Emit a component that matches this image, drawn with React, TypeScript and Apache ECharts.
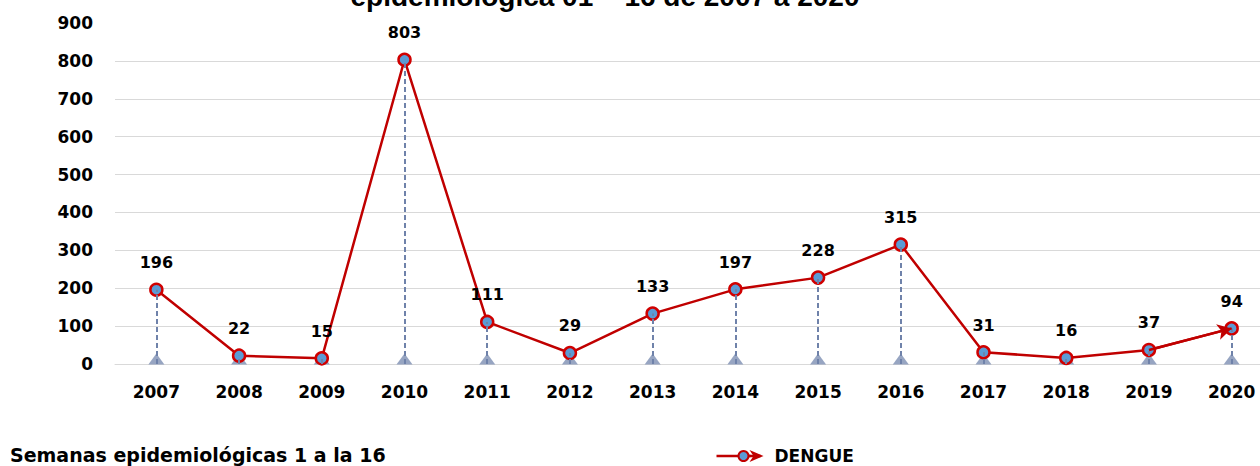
import React, { useEffect, useRef } from "react";
import * as echarts from "echarts";

const years = ["2007", "2008", "2009", "2010", "2011", "2012", "2013", "2014", "2015", "2016", "2017", "2018", "2019", "2020"];
const dengue = [196, 22, 15, 803, 111, 29, 133, 197, 228, 315, 31, 16, 37, 94];
const yTicks = [0, 100, 200, 300, 400, 500, 600, 700, 800, 900];
const titleText = "epidemiológica 01 – 16 de 2007 a 2020";
const footText = "Semanas epidemiológicas 1 a la 16";
const seriesName = "DENGUE";

const FONT = "DejaVu Sans";
const RED = "#c00000";
const BLUE = "#5b9bd5";

export default function App() {
  const ref = useRef<HTMLDivElement>(null);
  useEffect(() => {
    if (!ref.current) return;
    const chart = echarts.init(ref.current, null, { renderer: "svg" });
    const n = years.length;
    chart.setOption({
      animation: false,
      grid: { left: 115, right: 7, top: 23, bottom: 102, containLabel: false },
      title: {
        text: titleText,
        left: 600,
        textAlign: "center",
        top: -23,
        textStyle: { fontFamily: "Liberation Sans", fontWeight: "bold", fontSize: 28, color: "#000" },
      },
      graphic: [
        {
          type: "text",
          left: 10,
          top: 445,
          style: { text: footText, font: `bold 19px "${FONT}"`, fill: "#000" },
        },
        {
          type: "group",
          left: 714,
          top: 447,
          children: [
            { type: "line", shape: { x1: 0, y1: 9, x2: 34, y2: 9 }, style: { stroke: RED, lineWidth: 2.5 } },
            { type: "line", shape: { x1: 30, y1: 9, x2: 44, y2: 9 }, style: { stroke: RED, lineWidth: 2.5 } },
            { type: "polygon", shape: { points: [[33, 3], [47, 9], [33, 15], [37, 9]] }, style: { fill: RED } },
            { type: "circle", shape: { cx: 27, cy: 9, r: 5 }, style: { fill: BLUE, stroke: RED, lineWidth: 2 } },
            {
              type: "text",
              x: 58,
              y: 0,
              style: { text: seriesName, font: `bold 17px "${FONT}"`, fill: "#000" },
            },
          ],
        },
      ],
      xAxis: {
        type: "category",
        data: years,
        boundaryGap: true,
        axisLine: { show: true, lineStyle: { color: "#d9d9d9", width: 1 } },
        axisTick: { show: false },
        axisLabel: { margin: 19, fontFamily: FONT, fontWeight: "bold", fontSize: 17, color: "#000" },
      },
      yAxis: {
        type: "value",
        min: yTicks[0],
        max: yTicks[yTicks.length - 1],
        interval: 100,
        axisLine: { show: false },
        axisTick: { show: false },
        axisLabel: { margin: 22, fontFamily: FONT, fontWeight: "bold", fontSize: 17, color: "#000" },
        splitLine: {
          lineStyle: {
            color: yTicks.map((t, i) => (i === yTicks.length - 1 ? "rgba(0,0,0,0)" : "#d9d9d9")),
            width: 1,
          },
        },
      },
      series: [
        {
          name: "drops",
          type: "scatter",
          data: dengue.map(() => 0),
          symbol: "triangle",
          symbolSize: [16, 11],
          symbolOffset: [0, -5],
          itemStyle: { color: "#7d8fb3" },
          silent: true,
          z: 1,
          markLine: {
            silent: true,
            symbol: ["none", "none"],
            label: { show: false },
            lineStyle: { type: [5, 3], color: "#6f82aa", width: 2 },
            data: dengue.map((v, i) => [
              { coord: [years[i], 0] },
              { coord: [years[i], v] },
            ]),
          },
        },
        {
          name: seriesName,
          type: "line",
          data: dengue,
          symbol: "circle",
          symbolSize: 12,
          lineStyle: { color: RED, width: 2.5 },
          itemStyle: { color: BLUE, borderColor: "#d00000", borderWidth: 2.5 },
          label: {
            show: true,
            position: "top",
            distance: 12,
            fontFamily: FONT,
            fontWeight: "bold",
            fontSize: 16,
            color: "#000",
          },
          z: 3,
          markLine: {
            silent: true,
            symbol: ["none", "arrow"],
            symbolSize: [12, 14],
            label: { show: false },
            lineStyle: { type: "solid", color: RED, width: 2.5 },
            data: [
              [
                { coord: [years[n - 2], dengue[n - 2]] },
                { coord: [years[n - 1], dengue[n - 1]] },
              ],
            ],
          },
        },
      ],
    });
    return () => chart.dispose();
  }, []);
  return (
    <div style={{ position: "absolute", left: 0, top: 0, width: 1260, height: 466, overflow: "hidden" }}>
      <div ref={ref} style={{ width: 1280, height: 466 }} />
    </div>
  );
}
